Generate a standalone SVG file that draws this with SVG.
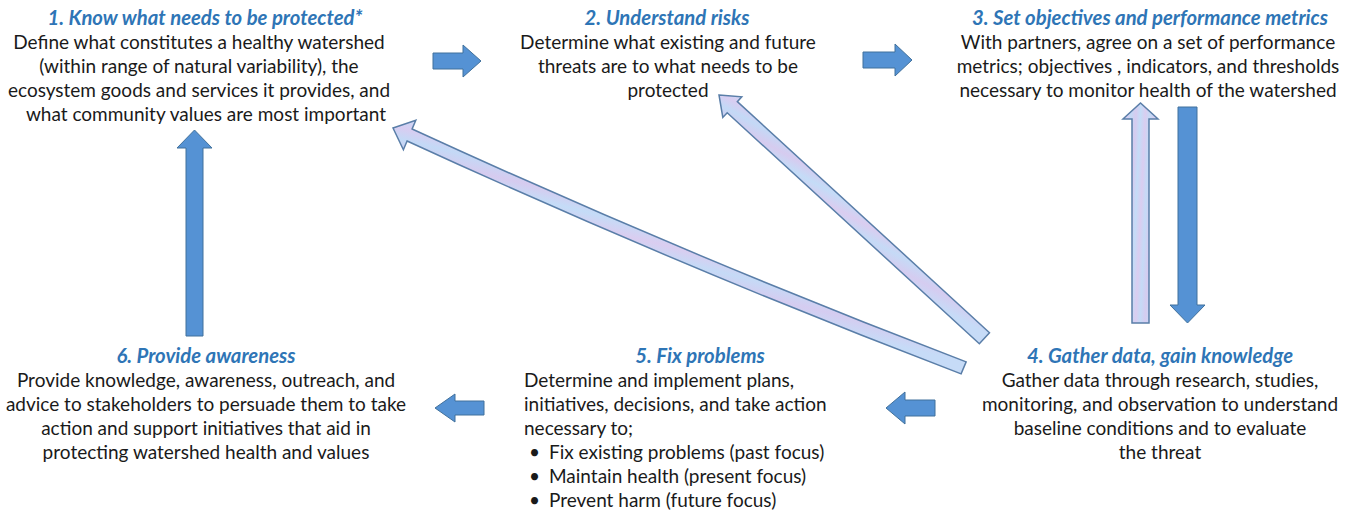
<svg xmlns="http://www.w3.org/2000/svg" width="1356" height="513" viewBox="0 0 1356 513">
<defs>
<linearGradient id="lg" x1="0" y1="0" x2="1" y2="0.3">
<stop offset="0" stop-color="#c6dbf7"/>
<stop offset="0.12" stop-color="#d8cdf1"/>
<stop offset="0.22" stop-color="#c3d9f6"/>
<stop offset="0.35" stop-color="#d6cbef"/>
<stop offset="0.47" stop-color="#c4dcf7"/>
<stop offset="0.6" stop-color="#dacdf0"/>
<stop offset="0.72" stop-color="#c5daf6"/>
<stop offset="0.85" stop-color="#d5ccf0"/>
<stop offset="1" stop-color="#c6dbf7"/>
</linearGradient>
</defs>
<style>
.t{font-family:Lato,'Liberation Sans',sans-serif;font-size:20.3px;font-weight:bold;font-style:italic;fill:#2e75b6;text-anchor:middle}
.b{font-family:Lato,'Liberation Sans',sans-serif;font-size:19px;fill:#1a1a1a;text-anchor:middle}
.bl{font-family:Lato,'Liberation Sans',sans-serif;font-size:19px;fill:#1a1a1a;text-anchor:start}
.solid{fill:#5592d4;stroke:#41719c;stroke-width:1}
.light{fill:url(#lg);stroke:#5a7ea8;stroke-width:1.5;stroke-linejoin:miter}
</style>
<rect width="1356" height="513" fill="#ffffff"/>

<g id="n1">
<text class="t" x="205" y="25">1. Know what needs to be protected*</text>
<text class="b" x="199" y="49">Define what constitutes a healthy watershed</text>
<text class="b" x="199" y="73">(within range of natural variability), the</text>
<text class="b" x="199" y="97">ecosystem goods and services it provides, and</text>
<text class="b" x="206" y="121">what community values are most important</text>
</g>

<g id="n2">
<text class="t" x="667" y="25">2. Understand risks</text>
<text class="b" x="668" y="49">Determine what existing and future</text>
<text class="b" x="668" y="73">threats are to what needs to be</text>
<text class="b" x="668" y="97">protected</text>
</g>

<g id="n3">
<text class="t" x="1150" y="25">3. Set objectives and performance metrics</text>
<text class="b" x="1148" y="49">With partners, agree on a set of performance</text>
<text class="b" x="1148" y="73">metrics; objectives , indicators, and thresholds</text>
<text class="b" x="1148" y="97">necessary to monitor health of the watershed</text>
</g>

<g id="n4">
<text class="t" x="1160" y="363">4. Gather data, gain knowledge</text>
<text class="b" x="1160" y="387">Gather data through research, studies,</text>
<text class="b" x="1160" y="411">monitoring, and observation to understand</text>
<text class="b" x="1160" y="435">baseline conditions and to evaluate</text>
<text class="b" x="1160" y="459">the threat</text>
</g>

<g id="n5">
<text class="t" x="700" y="363">5. Fix problems</text>
<text class="bl" x="524" y="387">Determine and implement plans,</text>
<text class="bl" x="524" y="411">initiatives, decisions, and take action</text>
<text class="bl" x="524" y="435">necessary to;</text>
<text class="bl" x="529" y="459">•</text>
<text class="bl" x="549" y="459">Fix existing problems (past focus)</text>
<text class="bl" x="529" y="483">•</text>
<text class="bl" x="549" y="483">Maintain health (present focus)</text>
<text class="bl" x="529" y="507">•</text>
<text class="bl" x="549" y="507">Prevent harm (future focus)</text>
</g>

<g id="n6">
<text class="t" x="206" y="363">6. Provide awareness</text>
<text class="b" x="206" y="387">Provide knowledge, awareness, outreach, and</text>
<text class="b" x="206" y="411">advice to stakeholders to persuade them to take</text>
<text class="b" x="206" y="435">action and support initiatives that aid in</text>
<text class="b" x="206" y="459">protecting watershed health and values</text>
</g>

<g id="connectors">
<!-- 1 -> 2 -->
<polygon class="solid" points="433,53 463,53 463,45 481,61 463,77 463,69 433,69"/>
<!-- 2 -> 3 -->
<polygon class="solid" points="863,52 895,52 895,44 912,60 895,76 895,68 863,68"/>
<!-- 3 -> 4 -->
<polygon class="solid" points="1178,107 1197,107 1197,305 1205,305 1187.5,323 1170,305 1178,305"/>
<!-- 4 -> 3 -->
<polygon class="light" points="1132,323 1132,119 1123,119 1140.5,103 1158,119 1149,119 1149,323"/>
<!-- 4 -> 5 -->
<polygon class="solid" points="935,400 905,400 905,392 886,408 905,424 905,416 935,416"/>
<!-- 5 -> 6 -->
<polygon class="solid" points="484,401 455,401 455,394 435,408 455,422 455,415 484,415"/>
<!-- 6 -> 1 -->
<polygon class="solid" points="186,336 186,148 177,148 194.5,130 212,148 203,148 203,336"/>
<!-- 4 -> 1 -->
<path class="light" transform="translate(393,128) rotate(22.8)" d="M0,0 L18,-16 L18,-6.5 Q318,3.5 619,-6.5 L619,6.5 Q318,16.5 18,6.5 L18,16 Z"/>
<!-- 4 -> 2 -->
<polygon class="light" transform="translate(719,95) rotate(42.5)" points="0,0 18,-14 18,-7.5 360,-7.5 360,7.5 18,7.5 18,14"/>
</g>
</svg>
